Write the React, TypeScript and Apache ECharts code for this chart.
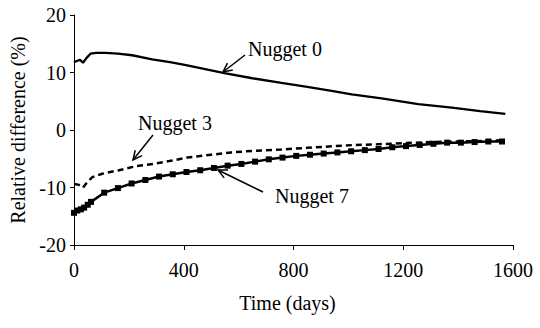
import React, { useEffect, useRef } from "react";
import * as echarts from "echarts";

const xTicks = [0, 400, 800, 1200, 1600];
const yTicks = [-20, -10, 0, 10, 20];

const nugget0Days = [0, 10, 22, 33, 45, 61, 80, 115, 160, 212, 285, 350, 408, 548, 650, 756, 850, 939, 1012, 1121, 1255, 1377, 1480, 1572];
const nugget0Vals = [11.8, 12.0, 12.2, 11.7, 12.5, 13.3, 13.4, 13.4, 13.3, 13.0, 12.3, 11.8, 11.3, 9.9, 9.0, 8.2, 7.5, 6.8, 6.2, 5.5, 4.5, 3.9, 3.3, 2.8];

const nugget3Days = [0, 15, 24, 33, 49, 67, 103, 164, 225, 286, 347, 414, 500, 573, 660, 756, 850, 950, 1024, 1100, 1200, 1300, 1400, 1500, 1560];
const nugget3Vals = [-9.4, -9.5, -9.7, -10.0, -9.0, -8.2, -7.6, -7.0, -6.3, -5.9, -5.4, -4.8, -4.3, -3.9, -3.6, -3.4, -3.1, -2.8, -2.6, -2.5, -2.3, -2.1, -2.0, -1.9, -1.8];

const nugget7Days = [0, 12, 25, 37, 50, 62, 110, 160, 210, 260, 310, 360, 410, 460, 510, 560, 610, 660, 710, 760, 810, 860, 910, 960, 1010, 1060, 1110, 1160, 1210, 1260, 1310, 1360, 1410, 1460, 1510, 1560];
const nugget7Vals = [-14.4, -14.0, -13.8, -13.5, -13.0, -12.5, -10.9, -10.1, -9.3, -8.7, -8.1, -7.7, -7.3, -7.0, -6.6, -6.2, -5.9, -5.5, -5.1, -4.8, -4.5, -4.3, -4.1, -3.9, -3.7, -3.5, -3.3, -3.0, -2.8, -2.6, -2.4, -2.2, -2.2, -2.1, -2.0, -2.0];

const labels = ["Nugget 0", "Nugget 3", "Nugget 7"];

const FONT = "Liberation Serif";

function zip(xs: number[], ys: number[]) {
  return xs.map((x, i) => [x, ys[i]]);
}

function arrow(x1: number, y1: number, x2: number, y2: number) {
  const ang = Math.atan2(y2 - y1, x2 - x1);
  const len = 10;
  const spread = 0.45;
  const a1 = ang + Math.PI - spread;
  const a2 = ang + Math.PI + spread;
  return [
    { type: "line", shape: { x1, y1, x2, y2 }, style: { stroke: "#000", lineWidth: 1.5 } },
    {
      type: "polyline",
      shape: {
        points: [
          [x2 + len * Math.cos(a1), y2 + len * Math.sin(a1)],
          [x2, y2],
          [x2 + len * Math.cos(a2), y2 + len * Math.sin(a2)],
        ],
      },
      style: { stroke: "#000", lineWidth: 1.5, fill: "none" },
    },
  ];
}

function label(text: string, x: number, y: number) {
  return {
    type: "text",
    x,
    y,
    style: { text, fontFamily: FONT, fontSize: 20, fill: "#000" },
  };
}

export default function App() {
  const ref = useRef<HTMLDivElement>(null);
  useEffect(() => {
    if (!ref.current) return;
    const chart = echarts.init(ref.current, undefined, { renderer: "svg" });
    chart.setOption({
      animation: false,
      textStyle: { fontFamily: FONT },
      grid: { left: 73, right: 27, top: 15, bottom: 83 },
      xAxis: {
        type: "value",
        min: xTicks[0],
        max: xTicks[xTicks.length - 1],
        interval: 400,
        name: "Time (days)",
        nameLocation: "middle",
        nameGap: 48,
        nameTextStyle: { fontFamily: FONT, fontSize: 20, color: "#000", padding: [0, 12, 0, 0] },
        axisLine: { onZero: false, lineStyle: { color: "#000", width: 1 } },
        axisTick: { show: true, length: 5, lineStyle: { color: "#000" } },
        axisLabel: { fontFamily: FONT, fontSize: 20, color: "#000", margin: 15, formatter: (v: number) => String(v) },
        splitLine: { show: false },
      },
      yAxis: {
        type: "value",
        min: yTicks[0],
        max: yTicks[yTicks.length - 1],
        interval: 10,
        name: "Relative difference (%)",
        nameLocation: "middle",
        nameGap: 46,
        nameTextStyle: { fontFamily: FONT, fontSize: 20, color: "#000" },
        axisLine: { show: true, onZero: false, lineStyle: { color: "#000", width: 1 } },
        axisTick: { show: true, length: 4, lineStyle: { color: "#000" } },
        axisLabel: { fontFamily: FONT, fontSize: 20, color: "#000", margin: 8, formatter: (v: number) => String(v) },
        splitLine: { show: false },
      },
      series: [
        {
          name: labels[0],
          type: "line",
          data: zip(nugget0Days, nugget0Vals),
          showSymbol: false,
          lineStyle: { color: "#000", width: 2.3 },
        },
        {
          name: labels[1],
          type: "line",
          data: zip(nugget3Days, nugget3Vals),
          showSymbol: false,
          lineStyle: { color: "#000", width: 2.5, type: [6, 4] },
        },
        {
          name: labels[2],
          type: "line",
          data: zip(nugget7Days, nugget7Vals),
          symbol: "rect",
          symbolSize: 6,
          showAllSymbol: true,
          itemStyle: { color: "#000" },
          lineStyle: { color: "#000", width: 2.5 },
        },
      ],
      graphic: [
        label(labels[0], 248, 39),
        ...arrow(245, 55, 223, 72),
        label(labels[1], 138, 113),
        ...arrow(153, 135, 133, 160),
        label(labels[2], 275, 186),
        ...arrow(263, 192, 218, 170),
      ],
    });
    return () => chart.dispose();
  }, []);
  return (
    <div style={{ position: "fixed", left: 0, top: 0, width: 540, height: 328, background: "#fff" }}>
      <style>{`svg text { font-family: "Liberation Serif", "Times New Roman", serif !important; }`}</style>
      <div ref={ref} style={{ width: 540, height: 328 }} />
    </div>
  );
}
